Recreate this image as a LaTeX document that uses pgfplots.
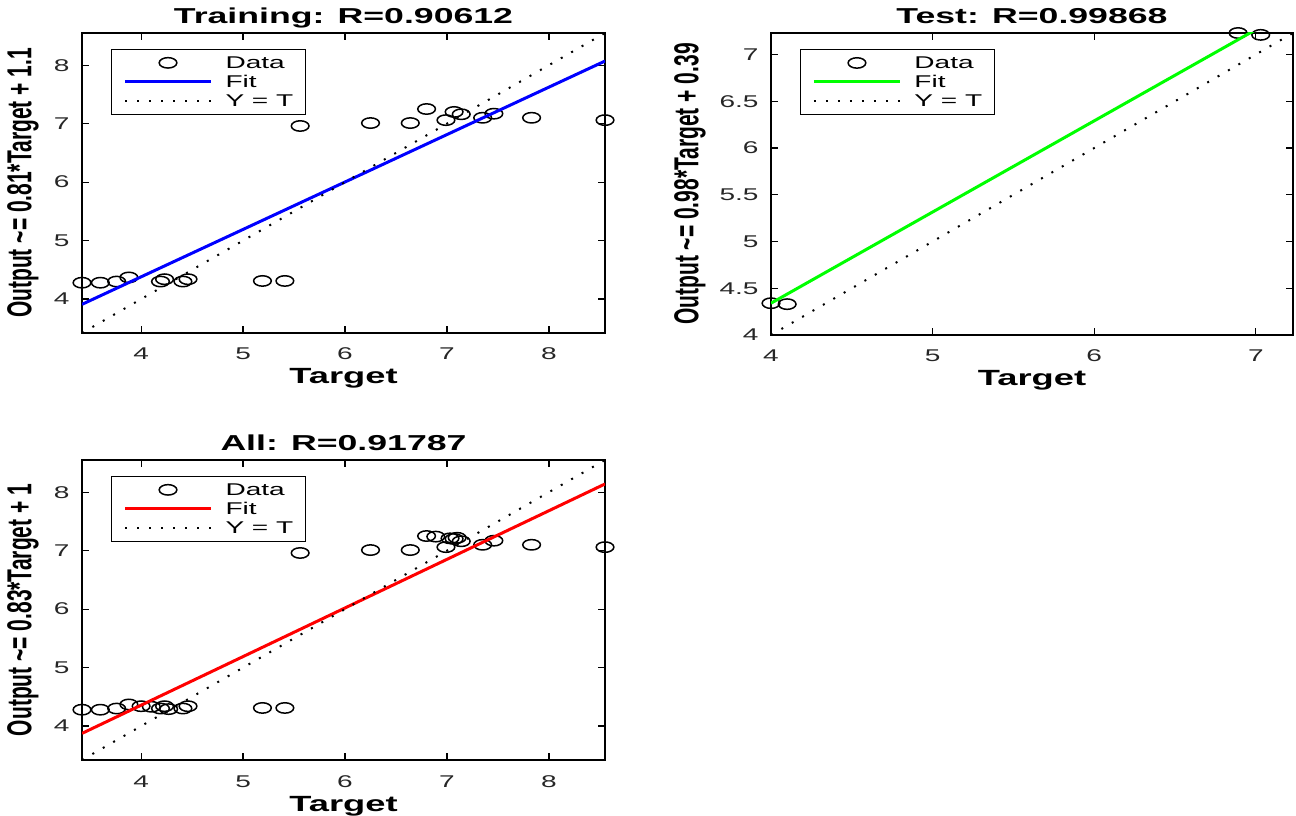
\documentclass[border=0pt]{standalone}
\usepackage{fontspec}
\setmainfont{Liberation Sans}
\usepackage{graphicx}
\usepackage{pgfplots}
\pgfplotsset{compat=1.18}
\definecolor{mgreen}{RGB}{0,255,0}
\definecolor{mblue}{RGB}{0,0,255}
\definecolor{mred}{RGB}{255,0,0}
\newcommand\sx[1]{\scalebox{1.65}[1]{#1}}
\newcommand\sy[1]{\scalebox{1}[1.65]{#1}}

\pgfplotsset{
  reg/.style={
    scale only axis,
    clip mode=individual,
    axis line style={line width=0.9pt},
    tick align=inside,
    major tick length=3.5pt,
    every tick/.style={black,line width=0.6pt},
    /pgf/number format/assume math mode=true,
    tick label style={font=\fontsize{8.5}{10}\selectfont, text=black!85},
    xticklabel={\sx{\pgfmathprintnumber{\tick}}},
    yticklabel={\sx{\pgfmathprintnumber{\tick}}},
    xticklabel style={anchor=base, yshift=-13.5pt},
    yticklabel style={anchor=east, xshift=-2.7pt},
    every axis title/.style={at={([yshift=4.5pt]axis description cs:0.5,1)}, anchor=base, font=\bfseries\fontsize{10.8}{12}\selectfont},
    every axis x label/.style={at={([yshift=-25.5pt]axis description cs:0.5,0)}, anchor=base, font=\bfseries\fontsize{11}{13}\selectfont},
    every axis y label/.style={at={([xshift=-29.5pt]axis description cs:0,0.5)}, rotate=90, anchor=center, font=\bfseries\fontsize{10.5}{12}\selectfont},
    legend style={at={(0.055,0.948)}, anchor=north west, draw=black, line width=0.75pt, fill=white,
      font=\fontsize{8.5}{10}\selectfont, inner xsep=6pt, inner ysep=2pt, row sep=0pt, column sep=6.5pt,
      nodes={inner xsep=0pt, inner ysep=1pt, text height=6.5pt, text depth=1pt}},
    legend cell align=left,
    xlabel={\sx{Target}},
  },
  datapts/.style={only marks, mark=o, mark size=2.6pt, black,
    mark options={xscale=1.7, line width=0.75pt, draw=black},
    legend image code/.code={\path (0pt,0pt) (43pt,0pt); \draw[##1] plot coordinates {(21.5pt,0pt)};}},
  fitline/.style={line width=1.5pt, color=#1,
    legend image code/.code={\draw[##1] (0pt,0pt) -- (43pt,0pt);}},
  ytline/.style={black, line width=1pt, dash pattern=on 1pt off 5pt,
    legend image code/.code={\draw[##1] (0pt,0pt) -- (43pt,0pt);}},
}

\begin{document}
\begin{tikzpicture}
\path[use as bounding box] (0pt,0pt) rectangle (648pt,407.5pt);

% Training
\begin{axis}[reg, at={(41pt,241pt)}, anchor=south west, width=261.5pt, height=150pt,
  xmin=3.42, xmax=8.55, ymin=3.42, ymax=8.55, xtick={4,5,6,7,8}, ytick={4,5,6,7,8},
  title={\sx{Training: R=0.90612}},
  ylabel={\sy{Output \textasciitilde= 0.81*Target + 1.1}}]
\addplot[datapts] coordinates {
(3.42,4.28) (3.60,4.28) (3.76,4.30) (3.88,4.37) (4.19,4.30) (4.23,4.34) (4.41,4.30) (4.46,4.34)
(5.19,4.31) (5.41,4.31) (5.56,6.96) (6.25,7.01) (6.64,7.01) (6.80,7.25) (6.99,7.06) (7.07,7.20)
(7.14,7.16) (7.35,7.10) (7.46,7.17) (7.83,7.10) (8.55,7.06)};
\addplot[fitline=mblue] coordinates {(3.42,3.91) (8.55,8.07)};
\addplot[ytline] coordinates {(3.42,3.42) (8.55,8.55)};
\legend{\sx{Data},\sx{Fit},\sx{Y = T}}
\end{axis}

% Test
\begin{axis}[reg, at={(385.5pt,240pt)}, anchor=south west, width=261pt, height=151pt,
  xmin=4, xmax=7.23, ymin=4, ymax=7.23, xtick={4,5,6,7}, ytick={4,4.5,5,5.5,6,6.5,7},
  title={\sx{Test: R=0.99868}},
  every axis y label/.append style={at={([xshift=-40.5pt]axis description cs:0,0.5)}},
  ylabel={\sy{Output \textasciitilde= 0.98*Target + 0.39}}]
\addplot[datapts] coordinates {(4.00,4.34) (4.10,4.33) (6.89,7.23) (7.03,7.21)};
\addplot[fitline=mgreen] coordinates {(4,4.34) (7.23,7.49)};
\addplot[ytline] coordinates {(4,4) (7.23,7.23)};
\legend{\sx{Data},\sx{Fit},\sx{Y = T}}
\end{axis}

% All
\begin{axis}[reg, at={(41pt,27.5pt)}, anchor=south west, width=261.5pt, height=150pt,
  xmin=3.42, xmax=8.55, ymin=3.42, ymax=8.55, xtick={4,5,6,7,8}, ytick={4,5,6,7,8},
  title={\sx{All: R=0.91787}},
  ylabel={\sy{Output \textasciitilde= 0.83*Target + 1}}]
\addplot[datapts] coordinates {
(3.42,4.28) (3.60,4.28) (3.76,4.30) (3.88,4.37) (4.19,4.30) (4.23,4.34) (4.41,4.30) (4.46,4.34)
(5.19,4.31) (5.41,4.31) (5.56,6.96) (6.25,7.01) (6.64,7.01) (6.80,7.25) (6.99,7.06) (7.07,7.20)
(7.14,7.16) (7.35,7.10) (7.46,7.17) (7.83,7.10) (8.55,7.06)
(4.00,4.34) (4.10,4.33) (6.89,7.24) (7.03,7.21)
(7.10,7.22) (4.27,4.29)};
\addplot[fitline=mred] coordinates {(3.42,3.875) (8.55,8.14)};
\addplot[ytline] coordinates {(3.42,3.42) (8.55,8.55)};
\legend{\sx{Data},\sx{Fit},\sx{Y = T}}
\end{axis}
\end{tikzpicture}
\end{document}
